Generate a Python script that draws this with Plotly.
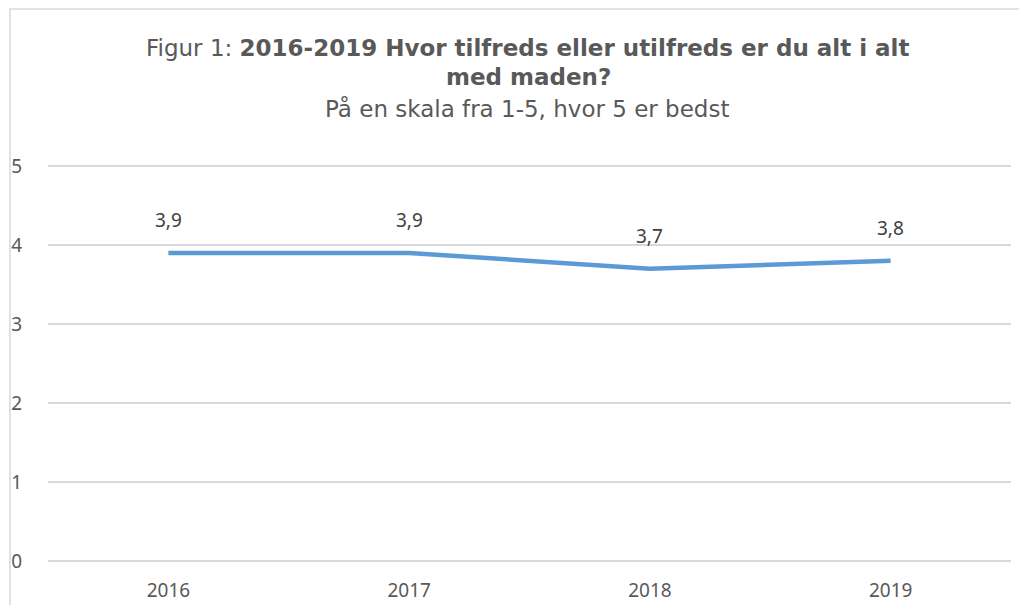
import plotly.graph_objects as go

years = ["2016", "2017", "2018", "2019"]
scores = [3.9, 3.9, 3.7, 3.8]
y_ticks = [0, 1, 2, 3, 4, 5]

# the page body adds an 8px margin, so the figure is laid out 8px up/left
OFF = 8
PAD = 2  # px of extra plot height so edge gridlines are not clipped
W, H = 1027 - OFF, 605 - OFF
L, R, T, B = 48 - OFF, 16, 166 - OFF - PAD, 44 - PAD
pw = W - L - R
ph = H - T - B
unit = (ph - 2 * PAD) / 5.0
ypad = PAD / unit

def py(p):
    return (H - B - (p - OFF)) / ph

def px(p):
    return ((p - OFF) - L) / pw

fig = go.Figure()
fig.add_trace(go.Scatter(
    x=years, y=scores, mode="lines",
    line=dict(color="#5B9BD5", width=4.5),
    hoverinfo="skip", showlegend=False,
))

for i, v in enumerate(scores):
    fig.add_annotation(x=i, y=v, text=f"{v:.1f}".replace(".", ","),
                       showarrow=False, yshift=33,
                       font=dict(family="Noto Sans", size=19, color="#404040"))

title_font = "DejaVu Sans"
tcol = "#595959"
tsize = 23
fig.add_annotation(xref="paper", yref="paper", x=px(528), y=py(48), yanchor="middle",
                   text="Figur 1: <b>2016-2019 Hvor tilfreds eller utilfreds er du alt i alt</b>",
                   showarrow=False, font=dict(family=title_font, size=tsize, color=tcol))
fig.add_annotation(xref="paper", yref="paper", x=px(528), y=py(77), yanchor="middle",
                   text="<b>med maden?</b>",
                   showarrow=False, font=dict(family=title_font, size=tsize, color=tcol))
fig.add_annotation(xref="paper", yref="paper", x=px(527), y=py(109), yanchor="middle",
                   text="På en skala fra 1-5, hvor 5 er bedst",
                   showarrow=False, font=dict(family=title_font, size=tsize, color=tcol))

# chart frame (partially visible)
fig.add_shape(type="rect", xref="paper", yref="paper",
              x0=px(10), x1=1.2, y0=-0.3, y1=py(9),
              line=dict(color="#D9D9D9", width=1.5), layer="below")

fig.update_layout(
    width=W, height=H,
    margin=dict(l=L, r=R, t=T, b=B, pad=0, autoexpand=False),
    paper_bgcolor="white", plot_bgcolor="white",
    separators=",.",
    xaxis=dict(type="category", range=[-0.5, 3.5], autorange=False, automargin=False,
               showgrid=False, zeroline=False, showline=False,
               ticks="", ticklabelstandoff=12 + PAD,
               tickfont=dict(family="Noto Sans", size=19, color="#595959")),
    yaxis=dict(range=[-ypad, 5 + ypad], autorange=False, automargin=False,
               tickvals=y_ticks, showgrid=True,
               gridcolor="#D9D9D9", gridwidth=1.5, zeroline=False, showline=False,
               ticks="", ticklabelstandoff=25,
               tickfont=dict(family="Noto Sans", size=19, color="#595959")),
)

fig.write_html("out.html")
